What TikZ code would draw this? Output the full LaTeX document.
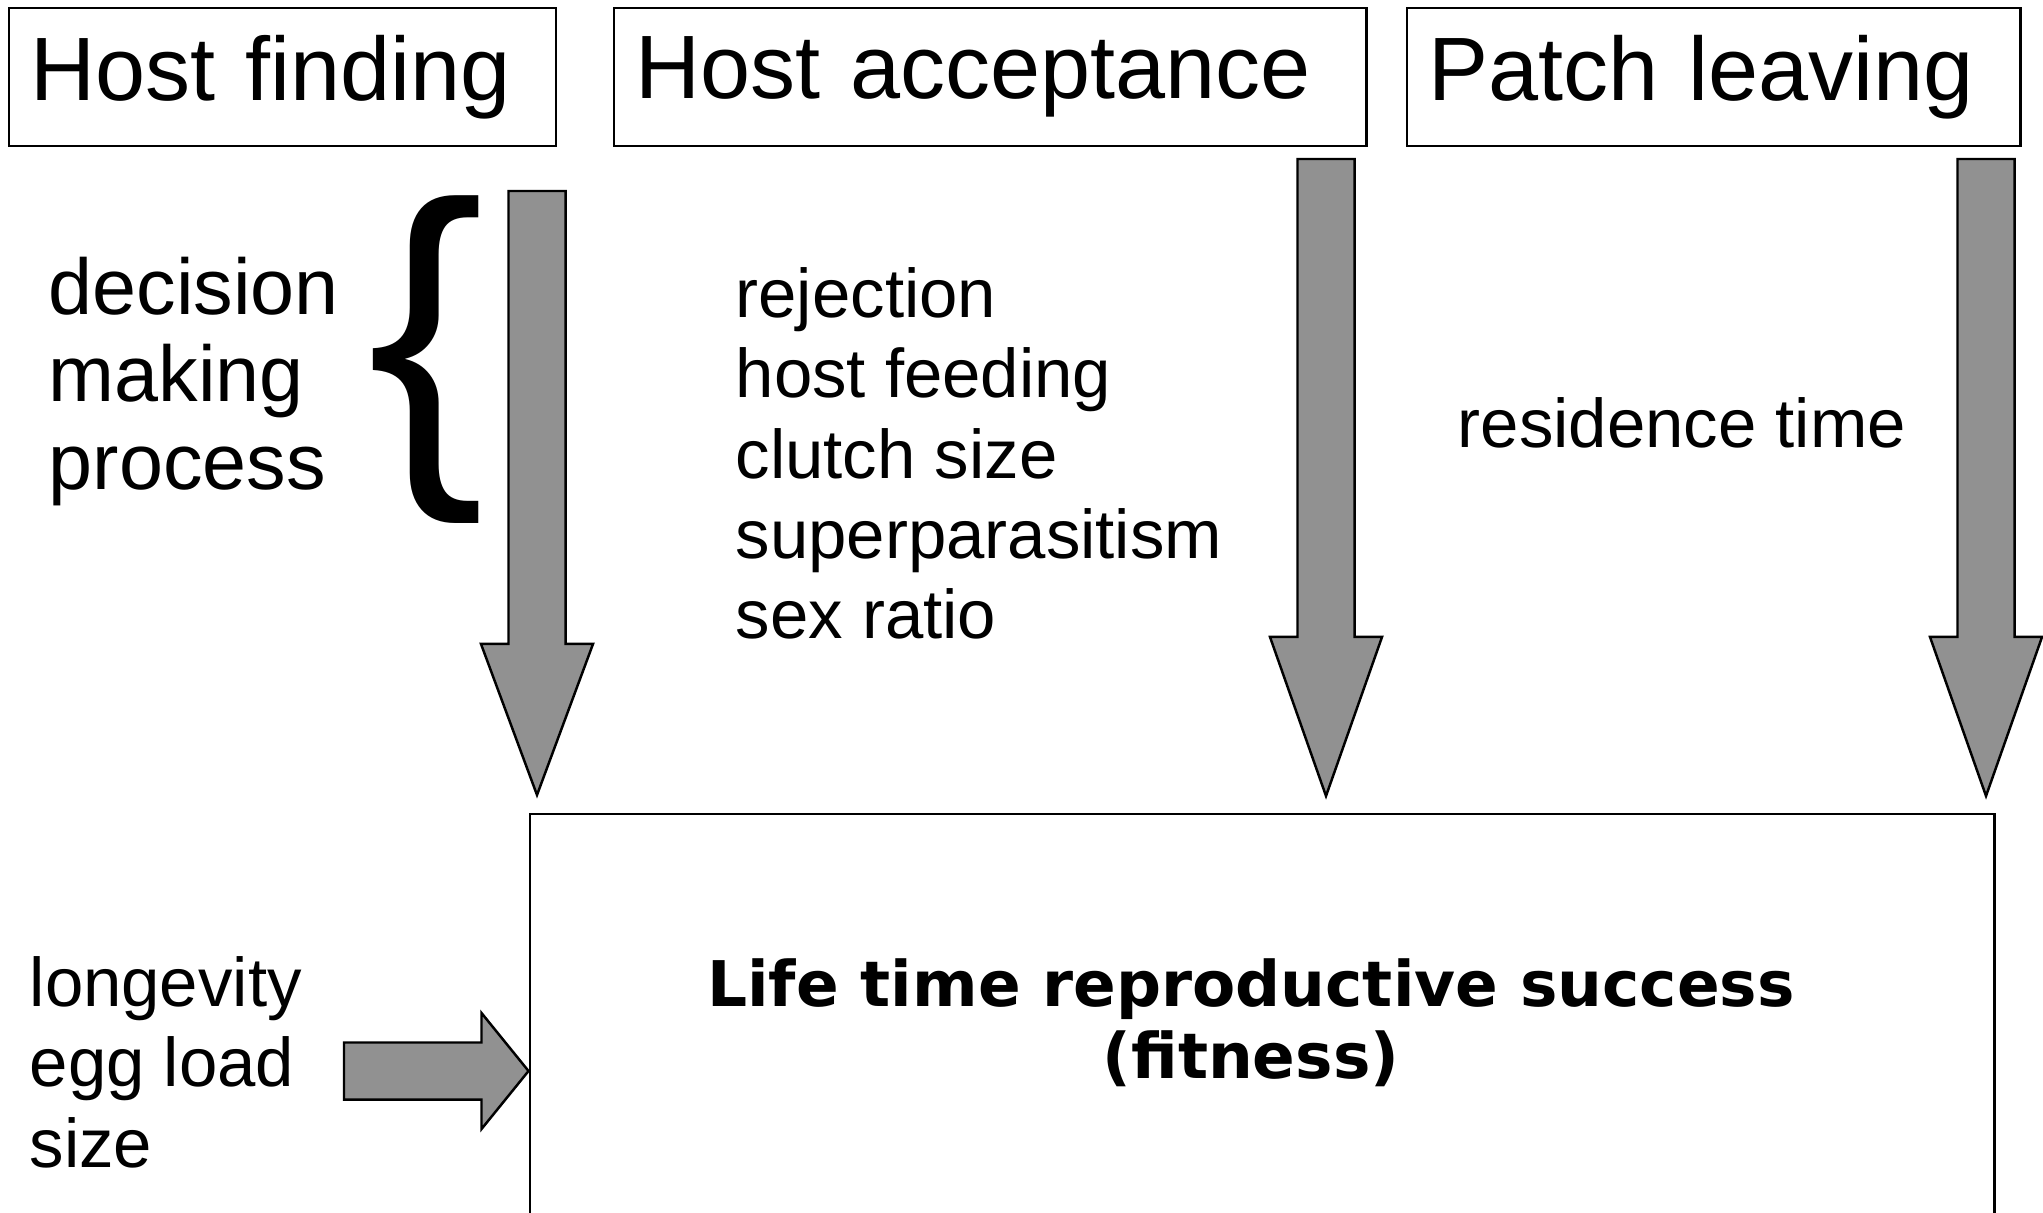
\documentclass[tikz,border=0pt]{standalone}
\usepackage{fontspec}
\setmainfont{Liberation Sans}
\newfontfamily\fitfont{DejaVu Sans}
\usetikzlibrary{calc}
\definecolor{arrowgray}{RGB}{145,145,145}

\begin{document}
\begin{tikzpicture}[x=0.01cm, y=-0.01cm,
    head/.style = {draw, line width=0.6pt, anchor=north west, minimum height=1.38cm,
                   inner xsep=0.21cm, align=left, font=\fontsize{25.6}{30}\selectfont},
    words/.style = {align=left, inner sep=0pt, font=\fontsize{19.6}{22.8}\selectfont},
    bigwords/.style = {words, font=\fontsize{22.5}{25}\selectfont},
    fat/.style = {draw, fill=arrowgray, line width=0.7pt, line join=miter},
    fatdown/.style = {to path={let \p1=(\tikztostart), \p2=(\tikztotarget) in
        (\x1-0.285cm,\y1) -- (\x1+0.285cm,\y1) -- (\x1+0.285cm,\y2+#1)
        -- (\x1+0.56cm,\y2+#1) -- (\x2,\y2) -- (\x1-0.56cm,\y2+#1)
        -- (\x1-0.285cm,\y2+#1) -- cycle}},
    fatright/.style = {to path={let \p1=(\tikztostart), \p2=(\tikztotarget) in
        (\x1,\y1+0.285cm) -- (\x2-#1,\y1+0.285cm) -- (\x2-#1,\y1+0.58cm)
        -- (\x2,\y2) -- (\x2-#1,\y1-0.58cm) -- (\x2-#1,\y1-0.285cm)
        -- (\x1,\y1-0.285cm) -- cycle}}]
  \useasboundingbox (0,0) rectangle (2043,1213);

  % the three stages
  \node[head, text width=5.05cm] (find) at (8,7) {Host finding};
  \node[head, text width=7.10cm] (accept) at (613,7) {Host acceptance};
  \node[head, text width=5.71cm] (leave) at (1406,7) {Patch leaving};

  % fitness box, its bottom runs off the page
  \node[draw, line width=0.6pt, minimum width=14.64cm, minimum height=4.18cm] (fitbox) at (1262,1023) {};
  \node[align=center, font=\fitfont\bfseries\fontsize{17.9}{20.5}\selectfont] (fit) at (1251,1023)
        {Life time reproductive success\\(fitness)};

  % texts
  \node[bigwords, anchor=north west] (dec) at (48,256) {decision\\making\\process};
  \node[inner sep=0pt, anchor=base west, font=\fontsize{100}{100}\selectfont] (brace) at (367,451) {\{};
  \node[words, anchor=north west] (choices) at (735,267)
        {rejection\\host feeding\\clutch size\\superparasitism\\sex ratio};
  \node[words, anchor=base west] (stay) at (1457,448) {residence time};
  \node[words, anchor=north west] (traits) at (29,956) {longevity\\egg load\\size};

  % block arrows
  \coordinate (s1) at (537,191);
  \coordinate (s2) at (1326,159);
  \coordinate (s3) at (1986,159);
  \coordinate (s4) at (344,1071);
  \coordinate (t1) at (537,795);
  \coordinate (t2) at (1326,796);
  \coordinate (t3) at (1986,796);
  \draw[fat, fatdown=1.51cm] (s1) to (t1);
  \draw[fat, fatdown=1.59cm] (s2) to (t2);
  \draw[fat, fatdown=1.59cm] (s3) to (t3);
  \draw[fat, fatright=0.47cm] (s4) to (fitbox.west |- s4);
\end{tikzpicture}
\end{document}
